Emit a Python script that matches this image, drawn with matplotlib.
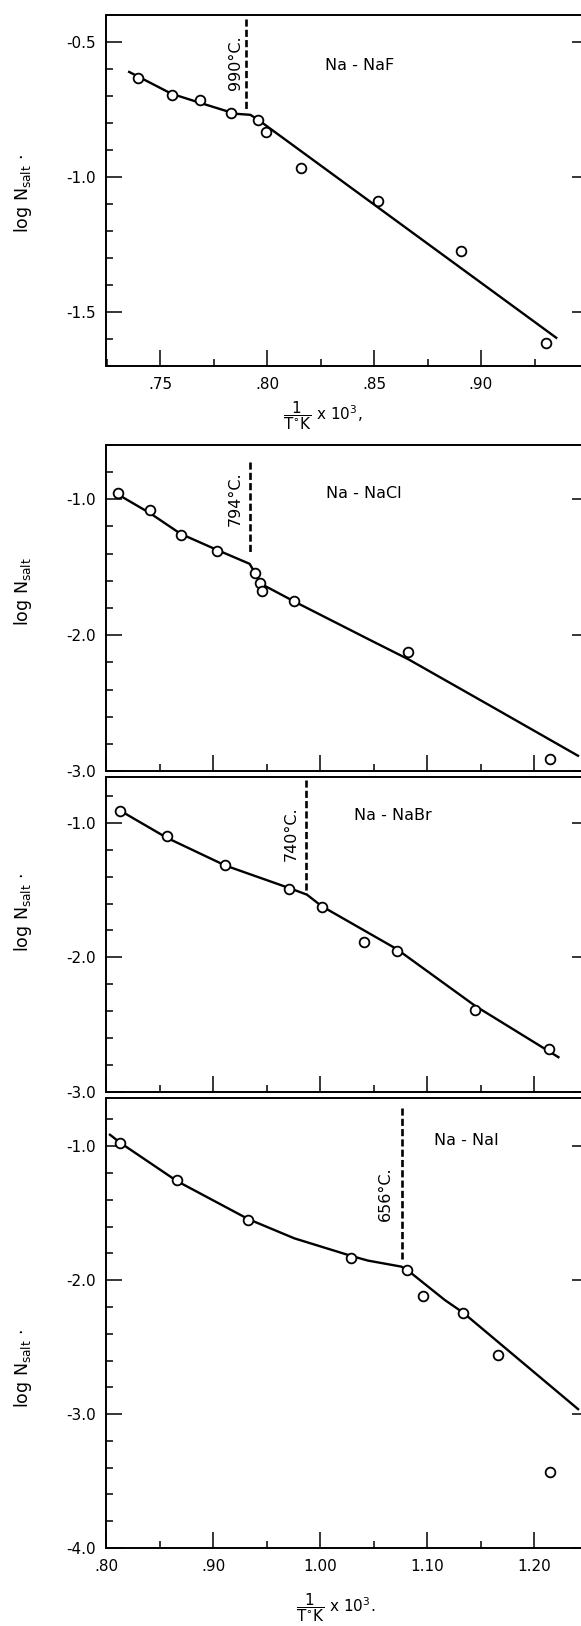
import matplotlib.pyplot as plt
from matplotlib.ticker import MultipleLocator, FixedLocator, FuncFormatter

plt.rcParams['axes.unicode_minus'] = False
plt.rcParams['font.family'] = 'DejaVu Sans'
plt.rcParams['mathtext.default'] = 'regular'

# Na - NaF
naf_x = [0.7396, 0.7554, 0.7689, 0.7830, 0.7958, 0.7993, 0.8161, 0.8520, 0.8906, 0.9302]
naf_y = [-0.633, -0.697, -0.714, -0.763, -0.790, -0.833, -0.966, -1.089, -1.273, -1.615]
naf_fit_x = [0.7351, 0.7554, 0.7689, 0.7851, 0.7922, 0.7958, 0.9356]
naf_fit_y = [-0.609, -0.692, -0.726, -0.766, -0.770, -0.788, -1.599]
naf_melt_x = [0.7901, 0.7901]
naf_melt_y = [-0.413, -0.748]

# Na - NaCl
nacl_x = [0.8111, 0.8405, 0.8693, 0.9032, 0.9389, 0.9438, 0.9455, 0.9753, 1.0820, 1.2146]
nacl_y = [-0.951, -1.079, -1.261, -1.377, -1.544, -1.616, -1.675, -1.751, -2.126, -2.909]
nacl_fit_x = [0.8111, 0.8405, 0.8693, 0.9032, 0.9338, 0.9446, 0.9752, 1.0449, 1.0820, 1.1592, 1.2416]
nacl_fit_y = [-0.966, -1.101, -1.254, -1.372, -1.475, -1.623, -1.751, -2.030, -2.177, -2.522, -2.892]
nacl_melt_x = [0.9340, 0.9340]
nacl_melt_y = [-0.724, -1.400]

# Na - NaBr
nabr_x = [0.8128, 0.8565, 0.9112, 0.9708, 1.0012, 1.0407, 1.0712, 1.1447, 1.2139]
nabr_y = [-0.910, -1.102, -1.313, -1.493, -1.629, -1.888, -1.953, -2.393, -2.679]
nabr_fit_x = [0.8128, 0.8565, 0.9112, 0.9708, 0.9873, 1.0012, 1.0712, 1.1447, 1.2233]
nabr_fit_y = [-0.910, -1.112, -1.318, -1.485, -1.534, -1.620, -1.938, -2.361, -2.746]
nabr_melt_x = [0.9860, 0.9860]
nabr_melt_y = [-0.682, -1.527]

# Na - NaI
nai_x = [0.8128, 0.8658, 0.9327, 1.0283, 1.0811, 1.0962, 1.1332, 1.1658, 1.2146]
nai_y = [-0.974, -1.252, -1.551, -1.831, -1.925, -2.117, -2.249, -2.558, -3.429]
nai_fit_x = [0.8024, 0.8128, 0.8658, 0.9327, 0.9756, 1.0283, 1.0443, 1.0755, 1.0811, 1.1161, 1.1332, 1.2416]
nai_fit_y = [-0.909, -0.974, -1.260, -1.545, -1.688, -1.818, -1.854, -1.899, -1.924, -2.148, -2.242, -2.969]
nai_melt_x = [1.0761, 1.0761]
nai_melt_y = [-0.714, -1.840]

# ticks
naf_yticks = [-0.5, -1.0, -1.5]
naf_xticks = [0.75, 0.80, 0.85, 0.90]
big_yticks = [-1.0, -2.0, -3.0, -4.0]
big_xticks = [0.80, 0.90, 1.00, 1.10, 1.20]

W, H = 581, 1626
fig = plt.figure(figsize=(W / 100, H / 100), dpi=100)


def caja(top, bottom, left=106.5, right=588):
    return [left / W, 1 - bottom / H, (right - left) / W, (bottom - top) / H]


def fmt_x(v, pos):
    s = f'{v:.2f}'
    return s[1:] if s.startswith('0') else s


def dibujar(ax, px, py, fx, fy, mx, my, xlim, ylim, xticks, xminor, yticks, yminor):
    ax.plot(fx, fy, color='black', lw=1.7, zorder=2, solid_capstyle='butt')
    ax.plot(mx, my, color='black', lw=1.9, ls=(0, (2.7, 1.2)), zorder=2)
    ax.plot(px, py, 'o', mfc='white', mec='black', ms=7, mew=1.3, zorder=3)
    ax.set_xlim(*xlim)
    ax.set_ylim(*ylim)
    ax.xaxis.set_major_locator(FixedLocator(xticks))
    ax.xaxis.set_minor_locator(MultipleLocator(xminor))
    ax.yaxis.set_major_locator(FixedLocator(yticks))
    ax.yaxis.set_minor_locator(MultipleLocator(yminor))
    ax.xaxis.set_major_formatter(FuncFormatter(fmt_x))
    ax.yaxis.set_major_formatter(FuncFormatter(lambda v, p: f'{v:.1f}'))
    ax.tick_params(which='both', direction='in', left=True, right=True,
                   bottom=True, top=False, width=1.1, labelsize=11)
    ax.tick_params(which='major', length=11.5)
    ax.tick_params(which='minor', length=5)
    ax.tick_params(axis='y', pad=7.5)
    ax.tick_params(axis='x', pad=8)
    for s in ax.spines.values():
        s.set_linewidth(1.4)


ylab = r'log N$_{\mathrm{salt}}$'
xlab = r'$\dfrac{1}{\mathrm{T^{\circ}K}}$ x 10$^3$'
YLAB_X = -0.150

# Panel 1: NaF
ax1 = fig.add_axes(caja(15, 365.7))
dibujar(ax1, naf_x, naf_y, naf_fit_x, naf_fit_y, naf_melt_x, naf_melt_y,
        (0.725, 0.95), (-1.7, -0.4), naf_xticks, 0.025, naf_yticks, 0.1)
ax1.text(0.7852, -0.577, '990°C.', rotation=90, ha='center', va='center', fontsize=11.5)
ax1.text(0.8434, -0.587, 'Na - NaF', ha='center', va='center', fontsize=11.5)
ax1.set_ylabel(ylab + ' ·', fontsize=12.5)
ax1.yaxis.set_label_coords(YLAB_X, 0.49)
ax1.set_xlabel(xlab + ',', fontsize=11)
ax1.xaxis.set_label_coords(0.4485, -0.095)

# Panel 2: NaCl
ax2 = fig.add_axes(caja(445, 771))
dibujar(ax2, nacl_x, nacl_y, nacl_fit_x, nacl_fit_y, nacl_melt_x, nacl_melt_y,
        (0.80, 1.25), (-3.0, -0.6), big_xticks, 0.05, big_yticks, 0.2)
ax2.text(0.9202, -0.995, '794°C.', rotation=90, ha='center', va='center', fontsize=11.5)
ax2.text(1.0407, -0.958, 'Na - NaCl', ha='center', va='center', fontsize=11.5)
ax2.set_ylabel(ylab, fontsize=12.5)
ax2.yaxis.set_label_coords(YLAB_X, 0.55)
ax2.tick_params(axis='x', labelbottom=False)

# Panel 3: NaBr
ax3 = fig.add_axes(caja(777, 1092))
dibujar(ax3, nabr_x, nabr_y, nabr_fit_x, nabr_fit_y, nabr_melt_x, nabr_melt_y,
        (0.80, 1.25), (-3.0, -0.66), big_xticks, 0.05, big_yticks, 0.2)
ax3.text(0.9722, -1.08, '740°C.', rotation=90, ha='center', va='center', fontsize=11.5)
ax3.text(1.0674, -0.943, 'Na - NaBr', ha='center', va='center', fontsize=11.5)
ax3.set_ylabel(ylab + ' ·', fontsize=12.5)
ax3.yaxis.set_label_coords(YLAB_X, 0.568)
ax3.tick_params(axis='x', labelbottom=False)

# Panel 4: NaI
ax4 = fig.add_axes(caja(1098, 1548))
dibujar(ax4, nai_x, nai_y, nai_fit_x, nai_fit_y, nai_melt_x, nai_melt_y,
        (0.80, 1.25), (-4.0, -0.64), big_xticks, 0.05, big_yticks, 0.2)
ax4.text(1.0605, -1.351, '656°C.', rotation=90, ha='center', va='center', fontsize=11.5)
ax4.text(1.1367, -0.961, 'Na - NaI', ha='center', va='center', fontsize=11.5)
ax4.set_ylabel(ylab + ' ·', fontsize=12.5)
ax4.yaxis.set_label_coords(YLAB_X, 0.398)
ax4.set_xlabel(xlab + '.', fontsize=11)
ax4.xaxis.set_label_coords(0.475, -0.097)

fig.savefig('out.png', dpi=100)
